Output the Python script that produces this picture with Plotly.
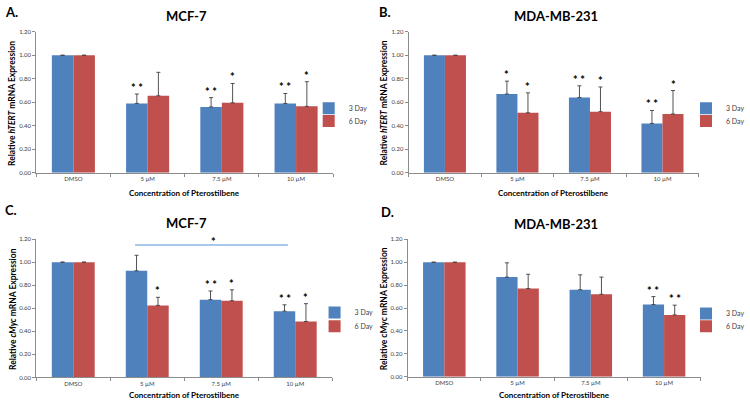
import plotly.graph_objects as go

categories = ["DMSO", "5 µM", "7.5 µM", "10 µM"]
series_names = ["3 Day", "6 Day"]
y_ticks = [0.0, 0.2, 0.4, 0.6, 0.8, 1.0, 1.2]
y_tick_labels = ["0.00", "0.20", "0.40", "0.60", "0.80", "1.00", "1.20"]

# Panel A: MCF-7, hTERT
A_3day = [1.00, 0.59, 0.56, 0.59]
A_3day_err = [0.0, 0.08, 0.08, 0.085]
A_6day = [1.00, 0.655, 0.595, 0.565]
A_6day_err = [0.0, 0.20, 0.165, 0.21]
A_3day_sig = ["", "**", "**", "**"]
A_6day_sig = ["", "", "*", "*"]

# Panel B: MDA-MB-231, hTERT
B_3day = [1.00, 0.67, 0.64, 0.42]
B_3day_err = [0.0, 0.11, 0.10, 0.11]
B_6day = [1.00, 0.51, 0.52, 0.50]
B_6day_err = [0.0, 0.17, 0.21, 0.20]
B_3day_sig = ["", "*", "**", "**"]
B_6day_sig = ["", "*", "*", "*"]

# Panel C: MCF-7, cMyc
C_3day = [1.00, 0.925, 0.675, 0.575]
C_3day_err = [0.0, 0.135, 0.075, 0.055]
C_6day = [1.00, 0.625, 0.665, 0.485]
C_6day_err = [0.0, 0.07, 0.095, 0.155]
C_3day_sig = ["", "", "**", "**"]
C_6day_sig = ["", "*", "*", "*"]
C_bracket_level = 1.15
C_bracket_from = "5 µM"
C_bracket_to = "10 µM"

# Panel D: MDA-MB-231, cMyc
D_3day = [1.00, 0.87, 0.76, 0.63]
D_3day_err = [0.0, 0.125, 0.13, 0.07]
D_6day = [1.00, 0.77, 0.72, 0.54]
D_6day_err = [0.0, 0.125, 0.15, 0.085]
D_3day_sig = ["", "", "", "**"]
D_6day_sig = ["", "", "", "**"]

W, H = 750, 403
FONT = "Lato"
BLUE = "#4F81BD"
RED = "#C0504D"
AXIS_GRAY = "#8C8C8C"
TEXT = "#404040"
BARGAP = 0.42

panels = [
    dict(letter="A.", title="MCF-7", ytitle="Relative <i>hTERT</i> mRNA Expression",
         d3=A_3day, e3=A_3day_err, d6=A_6day, e6=A_6day_err, s3=A_3day_sig, s6=A_6day_sig,
         px=(37, 340), py=(171.7, 28.3), letter_pos=(3, 8), title_y=12, legend=(315, 106, 119),
         ytitle_x=12, xtitle_y=192.5),
    dict(letter="B.", title="MDA-MB-231", ytitle="Relative <i>hTERT</i> mRNA Expression",
         d3=B_3day, e3=B_3day_err, d6=B_6day, e6=B_6day_err, s3=B_3day_sig, s6=B_6day_sig,
         px=(417, 713), py=(171.7, 28.3), letter_pos=(385, 8), title_y=12, legend=(700, 106, 119),
         ytitle_x=392, xtitle_y=192.5),
    dict(letter="C.", title="MCF-7", ytitle="Relative <i>cMyc</i> mRNA Expression",
         d3=C_3day, e3=C_3day_err, d6=C_6day, e6=C_6day_err, s3=C_3day_sig, s6=C_6day_sig,
         px=(37, 339), py=(380, 239.3), letter_pos=(3, 210), title_y=223, legend=(321, 314, 328),
         ytitle_x=14, xtitle_y=397.5),
    dict(letter="D.", title="MDA-MB-231", ytitle="Relative cMyc mRNA Expression",
         d3=D_3day, e3=D_3day_err, d6=D_6day, e6=D_6day_err, s3=D_3day_sig, s6=D_6day_sig,
         px=(416, 715), py=(379.3, 239.5), letter_pos=(387, 212), title_y=224, legend=(700, 315, 328),
         ytitle_x=392, xtitle_y=397.5),
]

fig = go.Figure()
annotations = []
shapes = []
layout = {}

half = (1 - BARGAP) / 4.0  # offset of each bar center from the category center (index units)

for i, p in enumerate(panels):
    n = "" if i == 0 else str(i + 1)
    xa, ya = "x" + n, "y" + n
    lg3 = "legend" if i == 0 else "legend" + str(2 * i + 1)
    lg6 = "legend" + str(2 * i + 2)
    for name, vals, errs, color, lg in [(series_names[0], p["d3"], p["e3"], BLUE, lg3),
                                        (series_names[1], p["d6"], p["e6"], RED, lg6)]:
        fig.add_trace(go.Bar(
            x=categories, y=vals, name=name, xaxis=xa, yaxis=ya, legend=lg,
            marker=dict(color=color, line=dict(width=0)),
            error_y=dict(type="data", array=errs, arrayminus=[0] * len(errs), symmetric=False,
                         color="#3F3F3F", thickness=0.9, width=2),
            showlegend=True,
        ))
    x0, x1 = p["px"]
    yb, yt = p["py"]
    layout["xaxis" + n] = dict(
        domain=[x0 / W, x1 / W], anchor=ya, type="category", range=[-0.5, 3.5],
        showline=True, linecolor=AXIS_GRAY, linewidth=1, ticks="outside", tickson="boundaries",
        ticklen=3, tickcolor=AXIS_GRAY, tickfont=dict(family=FONT, size=6, color=TEXT),
        showgrid=False, zeroline=False, fixedrange=True,
    )
    layout["yaxis" + n] = dict(
        domain=[1 - yb / H, 1 - yt / H], anchor=xa, range=[0, 1.2],
        tickvals=y_ticks, ticktext=y_tick_labels,
        showline=True, linecolor=AXIS_GRAY, linewidth=1, ticks="outside", ticklen=3,
        tickcolor=AXIS_GRAY, tickfont=dict(family=FONT, size=6, color=TEXT),
        showgrid=False, zeroline=False, fixedrange=True,
    )
    # legends
    lx, ly3, ly6 = p["legend"]
    for lg, ly in [(lg3, ly3), (lg6, ly6)]:
        layout[lg] = dict(x=lx / W, y=1 - ly / H, xanchor="left", yanchor="middle",
                          bgcolor="rgba(0,0,0,0)", borderwidth=0,
                          font=dict(family=FONT, size=7, color=TEXT), itemclick=False)
    # panel letter
    annotations.append(dict(text="<b>" + p["letter"] + "</b>", x=p["letter_pos"][0] / W,
                            y=1 - p["letter_pos"][1] / H, xref="paper", yref="paper",
                            xanchor="left", yanchor="middle", showarrow=False,
                            font=dict(family=FONT, size=13, color="#000")))
    # title
    annotations.append(dict(text="<b>" + p["title"] + "</b>", x=((x0 + x1) / 2 + 2) / W,
                            y=1 - p["title_y"] / H, xref="paper", yref="paper",
                            xanchor="center", yanchor="middle", showarrow=False,
                            font=dict(family=FONT, size=13, color="#000")))
    # y title
    annotations.append(dict(text="<b>" + p["ytitle"] + "</b>", x=p["ytitle_x"] / W,
                            y=1 - ((yb + yt) / 2 + 1) / H, xref="paper", yref="paper",
                            xanchor="center", yanchor="middle", textangle=-90, showarrow=False,
                            font=dict(family=FONT, size=8.5, color="#000")))
    # x title
    annotations.append(dict(text="<b>Concentration of Pterostilbene</b>", x=((x0 + x1) / 2) / W,
                            y=1 - p["xtitle_y"] / H, xref="paper", yref="paper",
                            xanchor="center", yanchor="middle", showarrow=False,
                            font=dict(family=FONT, size=8, color="#000")))
    # significance stars
    for vals, errs, sigs, off in [(p["d3"], p["e3"], p["s3"], -half), (p["d6"], p["e6"], p["s6"], half)]:
        for k, s in enumerate(sigs):
            if s:
                annotations.append(dict(text="<b>" + " ".join(s) + "</b>", x=k + off,
                                        y=vals[k] + errs[k], xref=xa, yref=ya,
                                        xanchor="center", yanchor="bottom", showarrow=False,
                                        yshift=-2,
                                        font=dict(family=FONT, size=11, color="#000")))

# bracket line in panel C
ci_from = categories.index(C_bracket_from) - half - 0.02
ci_to = categories.index(C_bracket_to) - 0.1
shapes.append(dict(type="line", xref="x3", yref="y3", x0=ci_from, x1=ci_to,
                   y0=C_bracket_level, y1=C_bracket_level,
                   line=dict(color="#8EB4E3", width=1.5)))
annotations.append(dict(text="<b>*</b>", x=(ci_from + ci_to) / 2 + 0.03, y=C_bracket_level,
                        xref="x3", yref="y3", xanchor="center", yanchor="bottom",
                        showarrow=False, yshift=-5, font=dict(family=FONT, size=11, color="#000")))

fig.update_layout(
    width=W, height=H, margin=dict(l=0, r=0, t=0, b=0),
    paper_bgcolor="white", plot_bgcolor="white",
    barmode="group", bargap=BARGAP, bargroupgap=0,
    font=dict(family=FONT, color=TEXT),
    annotations=annotations, shapes=shapes, **layout,
)

fig.write_html("out.html", config={"displayModeBar": False},
               post_script="document.body.style.margin='0';document.body.style.overflow='hidden';")
